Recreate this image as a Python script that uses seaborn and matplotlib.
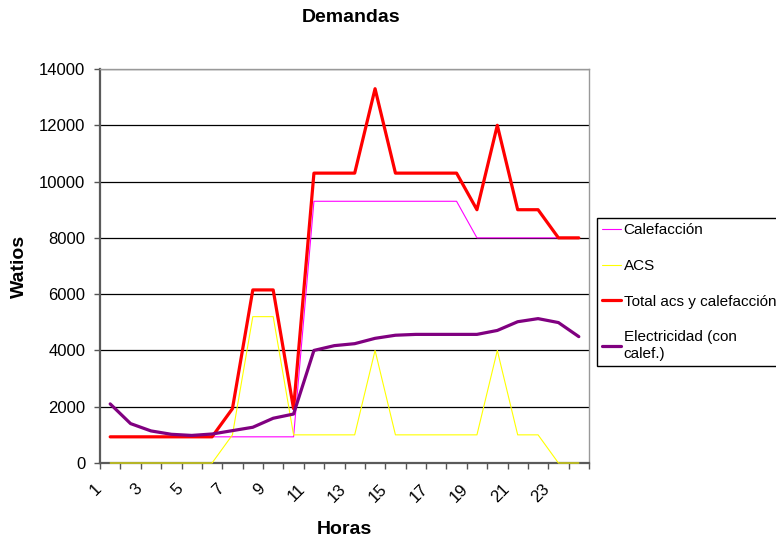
import matplotlib
matplotlib.use('Agg')
import matplotlib.pyplot as plt
import matplotlib.transforms as mtransforms
import numpy as np
import seaborn as sns

# Datos
horas = [1, 2, 3, 4, 5, 6, 7, 8, 9, 10, 11, 12, 13, 14, 15, 16, 17, 18, 19, 20, 21, 22, 23, 24]
etiquetas_x = ['1', '3', '5', '7', '9', '11', '13', '15', '17', '19', '21', '23']
calefaccion = [930, 930, 930, 930, 930, 930, 930, 930, 930, 930, 9300, 9300,
               9300, 9300, 9300, 9300, 9300, 9300, 8000, 8000, 8000, 8000, 8000, 8000]
acs = [0, 0, 0, 0, 0, 0, 1000, 5200, 5200, 1000, 1000, 1000,
       1000, 4000, 1000, 1000, 1000, 1000, 1000, 4000, 1000, 1000, 0, 0]
total = [930, 930, 930, 930, 930, 930, 1930, 6150, 6150, 1930, 10300, 10300,
         10300, 13300, 10300, 10300, 10300, 10300, 9000, 12000, 9000, 9000, 8000, 8000]
electricidad = [2100, 1400, 1140, 1020, 980, 1030, 1150, 1270, 1590, 1740, 4000, 4170,
                4240, 4430, 4540, 4570, 4570, 4570, 4570, 4710, 5020, 5130, 4990, 4490]

sns.set_style('white')
plt.rcParams['font.family'] = ['Liberation Sans', 'DejaVu Sans']
plt.rcParams['text.color'] = 'black'
plt.rcParams['axes.labelcolor'] = 'black'
plt.rcParams['xtick.color'] = 'black'
plt.rcParams['ytick.color'] = 'black'

fig = plt.figure(figsize=(7.76, 5.4), dpi=100)
ax = fig.add_axes([100 / 776, 1 - 463 / 540, 489 / 776, 394 / 540])

series = [
    ('Calefacción', calefaccion, '#FF00FF', 0.8),
    ('ACS', acs, '#FFFF00', 0.8),
    ('Total acs y calefacción', total, '#FF0000', 2.3),
    ('Electricidad (con\ncalef.)', electricidad, '#800080', 2.3),
]
for nombre, valores, color, lw in series:
    sns.lineplot(x=horas, y=valores, color=color, linewidth=lw, label=nombre,
                 ax=ax, clip_on=False, zorder=3)

ax.set_xlim(0.5, 24.5)
ax.set_ylim(0, 14000)
ax.set_yticks(np.arange(0, 14001, 2000))
ax.yaxis.grid(True, color='black', linewidth=0.9)
ax.set_axisbelow(True)

# ticks en los limites de categoria, etiquetas en el centro
ax.set_xticks(np.arange(0.5, 25, 1))
ax.set_xticklabels([])
ax.set_xticks([int(e) for e in etiquetas_x], minor=True)
ax.set_xticklabels(etiquetas_x, minor=True, rotation=45, ha='right', fontsize=12)
ax.tick_params(axis='x', which='minor', length=0, pad=13, bottom=True)
ax.tick_params(axis='x', which='major', length=4, width=1, color='#555555',
               direction='out', bottom=True)
ax.tick_params(axis='y', length=4, width=1, color='#555555', direction='out',
               pad=6.5, labelsize=12, left=True)
shift = mtransforms.ScaledTranslation(-4 / 72, 0, fig.dpi_scale_trans)
for lab in ax.get_xticklabels(minor=True):
    lab.set_transform(lab.get_transform() + shift)

for lado in ['left', 'bottom']:
    ax.spines[lado].set_color('#5a5a5a')
    ax.spines[lado].set_linewidth(1.6)
for lado in ['top', 'right']:
    ax.spines[lado].set_color('#999999')
    ax.spines[lado].set_linewidth(1)

ax.set_xlabel('Horas', fontsize=14, fontweight='bold')
ax.xaxis.set_label_coords(0.5, -(521 - 463) / 394)
ax.set_ylabel('Watios', fontsize=14, fontweight='bold')
ax.yaxis.set_label_coords((28 - 100) / 489, 0.5)

fig.text(351 / 776, 1 - 17 / 540, 'Demandas', ha='center', va='center',
         fontsize=14, fontweight='bold')

handles, labels = ax.get_legend_handles_labels()
ax.get_legend().remove()
leg = fig.legend(handles, labels, loc='upper left',
                 bbox_to_anchor=(597 / 776, 1 - 218 / 540), fontsize=11,
                 frameon=True, fancybox=False, edgecolor='black', framealpha=1,
                 handlelength=1.25, handletextpad=0.15, labelspacing=1.42,
                 borderpad=0.35, borderaxespad=0)
leg.get_frame().set_linewidth(1)

fig.savefig('out.png', dpi=100)
